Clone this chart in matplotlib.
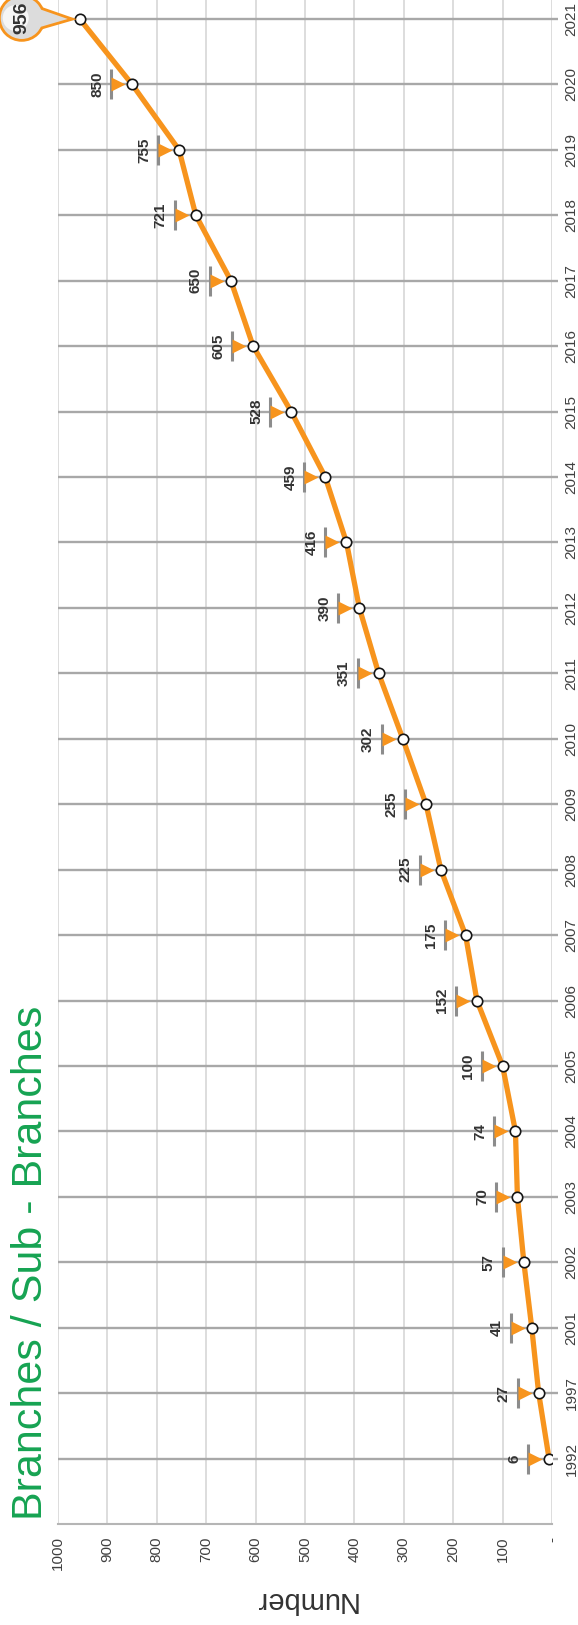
import matplotlib
matplotlib.use("Agg")
import matplotlib.pyplot as plt
from matplotlib.ticker import FuncFormatter
from matplotlib.transforms import offset_copy, IdentityTransform
from matplotlib.patches import Circle, Polygon

plt.rcParams['font.family'] = ['Liberation Sans', 'DejaVu Sans']

years = ['1992', '1997', '2001', '2002', '2003', '2004', '2005', '2006', '2007',
         '2008', '2009', '2010', '2011', '2012', '2013', '2014', '2015', '2016',
         '2017', '2018', '2019', '2020', '2021']
branches = [6, 27, 41, 57, 70, 74, 100, 152, 175, 225, 255, 302, 351, 390, 416,
            459, 528, 605, 650, 721, 755, 850, 956]
value_ticks = [0, 100, 200, 300, 400, 500, 600, 700, 800, 900, 1000]

orange = '#F7941D'
text_gray = '#404040'

fig = plt.figure(figsize=(5.78, 16.25), dpi=100)
W, H = 578, 1625
ax = fig.add_axes([58 / W, 1 - 1524 / H, (552 - 58) / W, 1524 / H])

idx = list(range(len(years)))

ax.set_xlim(1000, 0)
ax.set_ylim(-1, len(years) - 1 + 0.29)

ax.set_xticks(value_ticks)
ax.xaxis.set_major_formatter(FuncFormatter(lambda v, p: '-' if v == 0 else f'{int(v)}'))
ax.set_yticks(idx)
ax.set_yticklabels(years)
ax.yaxis.tick_right()

ax.grid(axis='x', color='#dadada', lw=1.3, zorder=0)
ax.grid(axis='y', color='#a8a8a8', lw=1.7, zorder=1)
ax.set_axisbelow(True)

for s in ['top', 'left', 'right']:
    ax.spines[s].set_visible(False)
ax.spines['bottom'].set_color('#b5b5b5')
ax.spines['bottom'].set_linewidth(1.5)

ax.tick_params(axis='x', length=0, pad=9, labelsize=11, labelcolor=text_gray,
               labelrotation=90)
ax.tick_params(axis='y', length=4, width=1.7, color='#a8a8a8', pad=5,
               labelsize=11, labelcolor=text_gray, labelrotation=90)
for lab in ax.get_yticklabels():
    lab.set_va('center')

# line and markers
ax.plot(branches, idx, color=orange, lw=3.8, zorder=3, solid_joinstyle='round')
ax.plot(branches, idx, 'o', ms=7.5, mfc='white', mec='#151515', mew=1.2, zorder=4)

# value labels with little flag
bar_tr = offset_copy(ax.transData, fig=fig, x=-21, y=0, units='dots')
tri_tr = offset_copy(ax.transData, fig=fig, x=-14, y=0, units='dots')
txt_tr = offset_copy(ax.transData, fig=fig, x=-35, y=0, units='dots')
for v, i in zip(branches[:-1], idx[:-1]):
    ax.plot(v, i, marker='|', ms=21, mew=2.2, color='#8c8c8c', transform=bar_tr,
            zorder=4)
    ax.plot(v, i, marker='>', ms=10, color=orange, mec='none', transform=tri_tr,
            zorder=5)
    ax.text(v, i, str(v), transform=txt_tr, rotation=90, ha='center', va='center',
            fontsize=11, fontweight='bold', color='#333333', zorder=5)

# callout bubble for the last value
px, py = ax.transData.transform((branches[-1], idx[-1]))
cx, cy, r = px - 58, py + 1, 21
tip = (px - 12, py)
idt = IdentityTransform()
base = [(cx + r * 0.55, cy + 11), tip, (cx + r * 0.55, cy - 11)]
fig.patches.append(Circle((cx, cy), r, transform=idt, fc=orange, ec=orange, lw=4,
                          zorder=6))
fig.patches.append(Polygon(base, closed=True, transform=idt, fc=orange, ec=orange,
                           lw=4, joinstyle='miter', zorder=6))
fig.patches.append(Circle((cx, cy), r, transform=idt, fc='#dcdcdc', ec='none',
                          zorder=7))
fig.patches.append(Polygon(base, closed=True, transform=idt, fc='#dcdcdc',
                           ec='none', zorder=7))
fig.patches.append(Circle((cx - 6, cy), r * 0.62, transform=idt, fc='#f6f6f6',
                          ec='none', zorder=7))
fig.text(cx / W, cy / H, str(branches[-1]), rotation=90, ha='center', va='center',
         fontsize=14, fontweight='bold', color='#333333', zorder=8)

# titles
fig.text(31 / W, 1 - 1520 / H, 'Branches / Sub - Branches', rotation=90,
         ha='center', va='bottom', fontsize=31, color='#16a352')
fig.text(305 / W, 1 - 1600 / H, 'Number', rotation=180, ha='center', va='center',
         fontsize=21, color='#333333')

fig.savefig('out.png', dpi=100)
